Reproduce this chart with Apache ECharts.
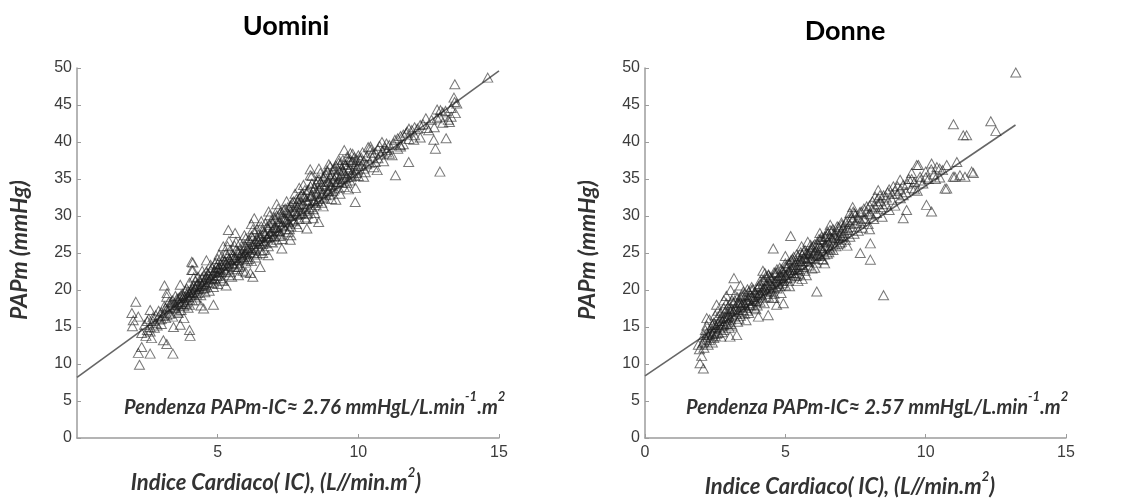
<!DOCTYPE html>
<html>
<head>
<meta charset="utf-8">
<title>PAPm vs IC</title>
<script src="https://cdn.jsdelivr.net/npm/echarts@6/dist/echarts.min.js"></script>
<style>
  html, body { margin: 0; padding: 0; background: #fff; }
  #chart { width: 1138px; height: 500px; }
</style>
</head>
<body>
<div id="chart"></div>
<script>
// tick labels
const xTicks = [0, 5, 10, 15]
const yTicks = [0, 5, 10, 15, 20, 25, 30, 35, 40, 45, 50]

// Uomini: [IC, PAPm]
const menPoints = [
  [2.09,18.4],[1.95,16.9],[2.0,15.9],[1.97,15.1],[2.18,16.4],[2.22,9.9],[2.18,11.5],[2.3,12.3],[2.6,11.4],
  [3.11,20.6],[3.19,19.1],[3.67,20.7],[3.41,11.4],[3.07,13.2],[3.19,12.7],[4.02,13.8],[4.0,14.6],
  [4.12,23.7],[4.12,22.7],[3.67,15.3],[3.43,15.0],[4.85,18.0],[4.5,17.5],[6.25,21.8],[6.51,23.1],
  [5.62,27.7],[5.2,25.9],[4.08,23.8],[4.08,22.7],[5.38,28.1],[6.3,29.7],[6.81,30.6],
  [8.29,36.3],[8.29,35.5],[8.89,36.2],[9.72,38.5],[10.43,39.4],[9.89,31.9],[8.59,29.2],[8.17,28.3],
  [7.28,25.6],[7.58,26.8],[6.16,22.3],[5.74,22.0],
  [14.6,48.7],[13.43,47.8],[13.42,45.4],[13.45,43.9],[12.92,44.3],[12.8,43.2],[13.24,42.7],[13.12,40.5],
  [12.68,40.3],[12.74,39.1],[12.9,36.0],[12.44,41.9],[11.73,41.4],[11.79,37.3],[11.32,35.5],[11.49,39.6],
  [10.84,40.0],[9.72,37.6],[9.0,36.7],[9.3,37.6],[10.07,37.6],[11.02,38.9],[11.97,40.3],[10.19,35.3],[10.67,36.2],
  [2.3,14.2],[2.4,15.3],[2.45,13.8],[2.5,14.6],[2.55,16.1],[2.6,15.0],[2.65,13.5],[2.7,15.8],[2.75,14.9],
  [2.8,16.6],[2.85,15.2],[2.9,17.2],[2.95,16.0],[3.0,15.4],[3.0,17.0],
  [3.05,16.5],[3.1,17.8],[3.15,16.2],[3.2,17.4],[3.25,18.3],[3.3,16.8],[3.35,17.9],[3.4,18.6],[3.4,16.4],
  [3.45,17.5],[3.5,18.0],[3.5,19.2],[3.55,17.1],[3.6,18.4],[3.6,16.9],[3.65,19.0],[3.7,18.1],[3.7,17.3],
  [3.75,19.5],[3.8,18.6],[3.8,17.8],[3.85,19.9],[3.9,18.3],[3.9,20.2],[3.95,19.1],[4.0,18.0],[4.0,19.6],[4.0,21.0],
  [4.05,19.3],[4.1,20.3],[4.1,18.6],[4.15,19.8],[4.2,21.2],[4.2,19.0],[4.25,20.6],[4.3,19.6],[4.3,21.8],
  [4.35,20.1],[4.4,21.0],[4.4,19.3],[4.45,20.7],[4.5,22.0],[4.5,20.2],[4.55,21.4],[4.6,20.6],[4.6,22.5],
  [4.65,21.1],[4.7,19.9],[4.7,22.0],[4.75,21.6],[4.8,23.0],[4.8,20.9],[4.85,22.3],[4.9,21.5],[4.9,23.6],
  [4.95,22.0],[5.0,20.8],[5.0,22.9],[5.0,24.2],
  [5.05,22.4],[5.1,23.5],[5.1,21.6],[5.15,24.6],[5.2,22.9],[5.2,21.2],[5.25,23.9],[5.3,22.5],[5.3,25.0],
  [5.35,23.3],[5.4,24.2],[5.4,22.0],[5.45,25.4],[5.5,23.6],[5.5,21.8],[5.55,24.7],[5.6,23.1],[5.6,26.0],
  [5.65,24.3],[5.7,22.8],[5.7,25.2],[5.75,24.0],[5.8,26.4],[5.8,23.3],[5.85,25.0],[5.9,24.5],[5.9,22.6],
  [5.95,26.1],[6.0,24.9],[6.0,23.7],[6.0,27.0],
  [6.05,25.6],[6.1,24.2],[6.1,26.8],[6.15,25.1],[6.2,27.3],[6.2,23.9],[6.25,26.2],[6.3,25.0],[6.3,27.8],
  [6.35,26.6],[6.4,24.8],[6.4,28.2],[6.45,26.0],[6.5,27.2],[6.5,25.3],[6.55,28.6],[6.6,26.7],[6.6,25.0],
  [6.65,27.7],[6.7,26.3],[6.7,29.0],[6.75,27.1],[6.8,25.9],[6.8,28.3],[6.85,27.6],[6.9,29.4],[6.9,26.5],
  [6.95,28.0],[7.0,27.2],[7.0,29.8],
  [7.05,28.5],[7.1,26.8],[7.1,30.1],[7.15,28.0],[7.2,29.2],[7.2,27.3],[7.25,30.6],[7.3,28.8],[7.3,26.9],
  [7.35,29.7],[7.4,28.2],[7.4,31.0],[7.45,29.4],[7.5,27.8],[7.5,30.4],[7.55,29.0],[7.6,31.4],[7.6,28.6],
  [7.65,30.0],[7.7,29.3],[7.7,32.0],[7.75,30.7],[7.8,28.9],[7.8,31.5],[7.85,30.2],[7.9,32.4],[7.9,29.6],
  [7.95,31.0],[8.0,30.4],[8.0,33.0],
  [8.05,31.6],[8.1,29.8],[8.1,32.6],[8.15,31.0],[8.2,33.5],[8.2,30.3],[8.25,32.1],[8.3,31.2],[8.3,34.0],
  [8.35,32.8],[8.4,30.9],[8.4,33.4],[8.45,32.0],[8.5,34.4],[8.5,31.5],[8.55,33.0],[8.6,32.3],[8.6,35.0],
  [8.65,33.7],[8.7,31.8],[8.7,34.3],[8.75,33.1],[8.8,35.4],[8.8,32.4],[8.85,34.0],[8.9,33.3],[8.9,36.0],
  [8.95,34.6],[9.0,32.9],[9.0,35.2],
  [9.05,34.0],[9.1,36.3],[9.1,33.4],[9.15,35.0],[9.2,34.3],[9.2,36.8],[9.25,35.6],[9.3,33.8],[9.3,37.2],
  [9.35,35.2],[9.4,36.4],[9.4,34.5],[9.45,37.6],[9.5,35.8],[9.5,33.9],[9.55,36.9],[9.6,35.3],[9.6,38.0],
  [9.65,36.2],[9.7,34.8],[9.75,37.3],[9.8,36.0],[9.8,38.4],[9.85,35.5],[9.9,37.0],[9.95,36.4],[10.0,38.2],[10.0,35.4],
  [10.1,36.8],[10.15,38.6],[10.2,37.4],[10.25,35.9],[10.3,38.1],[10.4,37.2],[10.45,39.0],[10.5,37.9],
  [10.55,36.6],[10.6,38.6],[10.7,37.8],[10.75,39.5],[10.8,38.3],[10.9,37.4],[10.95,39.2],[11.0,38.6],
  [11.1,39.6],[11.2,38.2],[11.3,40.3],[11.4,39.1],[11.5,40.8],[11.6,39.7],[11.7,41.2],[11.8,40.4],[11.9,41.6],[12.0,40.9],
  [12.1,41.8],[12.2,40.6],[12.3,42.4],[12.5,41.6],[12.6,43.0],[12.7,42.0],[12.9,43.4],[13.0,42.6],
  [13.1,44.2],[13.2,43.0],[13.3,44.6],[13.5,45.2],
  [2.5,15.8],[2.6,14.4],[2.7,16.3],[2.8,15.5],[2.9,16.4],[3.0,16.1],[3.1,16.9],[3.15,17.6],[3.2,16.6],
  [3.3,17.7],[3.35,18.4],[3.45,18.2],[3.5,17.6],[3.55,18.8],[3.6,17.9],[3.65,18.3],[3.7,19.3],[3.75,18.4],
  [3.8,19.2],[3.85,18.1],[3.9,19.0],[3.95,19.8],[4.0,18.7],[4.05,20.0],
  [4.1,19.7],[4.15,20.6],[4.2,20.1],[4.25,19.4],[4.3,20.8],[4.35,21.3],[4.4,20.5],[4.45,21.7],[4.5,21.1],
  [4.55,20.3],[4.6,21.8],[4.65,22.2],[4.7,21.3],[4.75,22.7],[4.8,22.0],[4.85,21.0],[4.9,22.6],[4.95,23.1],
  [5.0,21.9],[5.0,23.5],
  [5.05,23.0],[5.1,22.4],[5.15,23.4],[5.2,24.1],[5.25,22.7],[5.3,23.7],[5.35,24.5],[5.4,23.2],[5.45,24.0],
  [5.5,24.8],[5.55,23.5],[5.6,24.4],[5.65,25.4],[5.7,24.0],[5.75,25.0],[5.8,25.6],[5.85,24.3],[5.9,25.4],
  [5.95,24.8],[6.0,25.9],
  [6.05,24.5],[6.1,25.6],[6.15,26.5],[6.2,25.4],[6.25,27.0],[6.3,26.2],[6.35,25.5],[6.4,26.9],[6.45,27.5],
  [6.5,26.3],[6.55,27.3],[6.6,28.0],[6.65,26.6],[6.7,27.6],[6.75,28.5],[6.8,27.2],[6.85,28.8],[6.9,27.9],
  [6.95,29.1],[7.0,28.4],
  [7.05,29.6],[7.1,28.4],[7.15,29.3],[7.2,30.3],[7.25,28.6],[7.3,29.9],[7.35,30.8],[7.4,29.6],[7.45,30.5],
  [7.5,31.2],[7.55,30.1],[7.6,30.7],[7.65,31.8],[7.7,30.6],[7.75,31.3],[7.8,32.3],[7.85,31.2],[7.9,31.7],
  [7.95,32.8],[8.0,31.6],
  [8.05,32.6],[8.1,33.5],[8.15,32.2],[8.2,32.0],[8.25,33.6],[8.3,32.7],[8.35,34.4],[8.4,32.2],[8.45,33.8],
  [8.5,33.2],[8.55,34.8],[8.6,33.6],[8.65,34.6],[8.7,33.0],[8.75,35.2],[8.8,34.1],[8.85,35.6],[8.9,34.7],
  [8.95,33.4],[9.0,34.2],
  [9.05,35.6],[9.1,34.8],[9.15,36.4],[9.2,35.4],[9.25,34.6],[9.3,36.2],[9.35,37.0],[9.4,35.6],[9.45,36.1],
  [9.5,37.0],[9.55,35.1],[9.6,36.6],[9.65,37.6],[9.7,36.4],[9.75,35.7],[9.8,37.4],[9.85,37.9],[9.9,36.2],
  [9.95,37.6],[10.0,36.8],
  [10.1,37.9],[10.2,36.4],[10.3,37.0],[10.35,39.3],[10.5,38.5],[10.6,37.3],[10.7,39.0],[10.85,38.8],
  [11.0,39.8],[11.1,38.4],[11.25,39.8],[11.4,40.5],[11.5,39.4],[11.6,41.0],[11.8,41.8],[12.0,42.0],
  [12.2,42.3],[12.4,43.2],[12.8,44.4],[13.0,44.0],[13.3,43.4],[13.4,46.0],
  [5.3,20.6],[6.0,22.4],[6.8,24.7],[7.6,27.4],[8.4,29.7],[9.2,32.2],[9.9,33.8],[4.6,24.0],[5.4,26.6],
  [6.2,28.9],[7.1,31.6],[7.9,33.8],[8.6,36.4],[9.5,38.9],[3.2,19.6],[2.6,17.3],[4.4,17.9],[3.8,16.2],
  [3.6,18.9],[3.75,18.9],[3.9,19.4],[4.05,19.7],[4.2,20.4],[4.35,20.5],[4.5,20.8],[4.65,21.5],[4.8,21.6],
  [4.95,22.5],[5.1,22.8],[5.25,23.3],[5.4,23.6],[5.55,24.1],[5.7,23.6],[5.85,24.7],[6.0,25.2],[6.15,25.7],
  [6.3,25.7],[6.45,26.6],[6.6,26.2],[6.75,27.0],[6.9,27.3],[7.05,27.8],[7.2,28.0],[7.35,28.6],[7.5,29.2],
  [7.65,29.5],[7.8,30.2],[7.95,30.3],[8.1,30.7],[8.25,31.0],[8.4,31.8],[8.55,32.0],[8.7,32.6],[8.85,32.8],
  [9.0,33.7],[9.15,33.6],[9.3,34.6],[9.45,35.0],[9.6,34.5],[9.75,35.3],[9.9,35.8],
  [3.95,17.6],[4.25,18.6],[4.55,19.7],[4.85,20.4],[5.15,21.3],[5.45,22.4],[5.75,23.1],[6.05,24.0],[6.35,24.4],
  [6.65,25.4],[6.95,26.4],[7.25,27.5],[7.55,28.2],[7.85,28.5],[8.15,29.6],[8.45,30.4],[8.75,31.3],[9.05,32.3],
  [9.35,33.0],[9.65,33.6],
  [4.15,21.7],[4.45,22.6],[4.75,23.4],[5.05,24.8],[5.35,25.9],[5.65,26.5],[5.95,27.4],[6.25,28.2],[6.55,29.3],
  [6.85,30.1],[7.15,31.0],[7.45,32.0],[7.75,33.0],[8.05,34.2],[8.35,35.4],[8.65,35.8],[8.95,37.0]
]

// Donne: [IC, PAPm]
const womenPoints = [
  [2.08,9.4],[1.96,10.1],[2.02,11.1],[1.94,12.0],[1.9,12.6],[3.17,21.6],[3.05,20.0],[2.81,18.6],[2.55,18.0],
  [3.27,13.9],[3.03,13.7],[4.39,16.6],[4.04,16.4],[4.57,25.6],[5.19,27.3],[4.27,22.3],[6.12,19.8],[5.58,25.9],
  [6.23,27.7],[4.93,18.2],[4.69,18.0],[8.03,24.1],[8.31,33.5],[8.37,32.8],[7.3,30.4],[9.09,34.9],[9.68,36.9],
  [10.21,37.1],[10.75,33.7],[11.04,35.3],[10.21,30.6],[10.03,31.5],[9.2,29.7],[9.32,30.8],[8.03,26.3],
  [7.67,25.0],[6.29,27.2],[6.59,28.1],[7.01,28.8],[7.42,30.6],[8.5,19.3],
  [13.21,49.4],[10.99,42.4],[12.32,42.8],[12.5,41.5],[11.34,40.9],[11.46,40.9],[10.75,36.9],[11.11,37.3],
  [11.64,36.0],[11.22,35.5],[10.98,35.3],[11.4,35.3],[11.7,35.8],[10.69,33.7],[9.74,36.9],[9.5,35.8],
  [2.05,12.8],[2.1,13.9],[2.1,12.2],[2.15,14.6],[2.2,13.3],[2.2,15.2],[2.25,12.6],[2.3,14.1],[2.3,16.0],
  [2.35,13.6],[2.4,15.3],[2.4,12.9],[2.45,14.4],[2.5,16.6],[2.5,13.8],[2.55,15.0],[2.6,17.2],[2.6,14.2],
  [2.65,15.8],[2.7,13.7],[2.7,16.9],[2.75,15.1],[2.8,17.6],[2.8,14.6],[2.85,16.3],[2.9,15.4],[2.9,18.2],
  [2.95,16.8],[3.0,14.9],[3.0,17.5],
  [3.05,16.0],[3.1,18.6],[3.1,15.2],[3.15,17.1],[3.2,16.3],[3.2,19.4],[3.25,17.8],[3.3,15.7],[3.3,18.3],
  [3.35,17.0],[3.4,19.0],[3.4,16.5],[3.45,18.0],[3.5,17.3],[3.5,19.8],[3.55,16.8],[3.6,18.7],[3.6,17.6],
  [3.65,20.1],[3.7,18.2],[3.7,16.9],[3.75,19.3],[3.8,18.0],[3.8,20.4],[3.85,19.0],[3.9,17.6],[3.9,19.7],
  [3.95,18.5],[4.0,20.2],[4.0,17.9],
  [4.05,19.4],[4.1,20.8],[4.1,18.4],[4.15,19.9],[4.2,21.3],[4.2,18.9],[4.25,20.3],[4.3,19.5],[4.3,21.8],
  [4.35,20.6],[4.4,19.1],[4.4,22.1],[4.45,20.9],[4.5,19.8],[4.5,21.6],[4.55,20.4],[4.6,22.4],[4.6,19.5],
  [4.65,21.2],[4.7,20.2],[4.7,22.8],[4.75,21.6],[4.8,20.5],[4.8,23.0],[4.85,21.9],[4.9,20.9],[4.9,22.6],
  [4.95,21.4],[5.0,23.2],[5.0,20.6],
  [5.05,22.1],[5.1,23.6],[5.1,21.2],[5.15,22.7],[5.2,24.0],[5.2,21.7],[5.25,23.1],[5.3,22.3],[5.3,24.5],
  [5.35,23.4],[5.4,21.9],[5.4,24.8],[5.45,22.8],[5.5,23.9],[5.5,22.2],[5.55,25.1],[5.6,23.4],[5.65,24.4],
  [5.7,22.6],[5.7,25.4],[5.75,23.9],[5.8,24.9],[5.85,23.3],[5.9,25.6],[5.9,24.2],[5.95,22.9],[6.0,24.7],[6.0,26.0],
  [6.05,25.2],[6.1,23.7],[6.15,26.3],[6.2,24.8],[6.25,25.7],[6.3,24.2],[6.3,26.8],[6.35,25.3],[6.4,27.2],
  [6.45,26.0],[6.5,24.9],[6.5,27.6],[6.55,26.4],[6.6,25.5],[6.65,27.0],[6.7,26.1],[6.7,28.2],[6.75,27.4],
  [6.8,25.9],[6.85,28.6],[6.9,27.0],[6.95,26.3],[7.0,28.0],[7.0,29.1],
  [7.05,27.3],[7.1,28.7],[7.15,26.8],[7.2,29.4],[7.25,28.1],[7.3,27.2],[7.35,29.8],[7.4,28.5],[7.45,27.6],
  [7.5,30.2],[7.55,29.0],[7.6,28.0],[7.65,30.5],[7.7,29.3],[7.75,28.4],[7.8,31.0],[7.85,29.7],[7.9,30.6],
  [7.95,28.9],[8.0,31.4],
  [8.05,30.2],[8.1,32.0],[8.15,29.6],[8.2,31.2],[8.25,30.4],[8.3,32.4],[8.4,31.0],[8.45,29.9],[8.5,32.8],
  [8.6,31.6],[8.65,33.2],[8.7,30.8],[8.8,32.2],[8.85,34.0],[8.9,31.4],[9.0,33.0],
  [9.1,32.4],[9.2,34.2],[9.3,33.2],[9.4,35.0],[9.5,33.8],[9.6,34.6],[9.7,33.4],[9.8,35.3],[9.9,34.4],
  [10.0,36.0],[10.1,35.0],[10.3,35.6],[10.4,36.6],[10.5,35.2],[10.6,36.2],
  [2.1,13.0],[2.15,13.6],[2.2,14.2],[2.25,13.9],[2.3,13.2],[2.35,14.8],[2.4,14.0],[2.45,15.6],[2.5,14.9],
  [2.55,14.1],[2.6,15.5],[2.65,14.8],[2.7,16.2],[2.75,15.8],[2.8,15.3],[2.85,17.0],[2.9,16.2],[2.95,15.6],
  [3.0,16.5],[3.0,18.0],
  [3.05,17.2],[3.1,16.6],[3.15,18.2],[3.2,17.5],[3.25,16.8],[3.3,19.0],[3.35,18.2],[3.4,17.7],[3.45,19.2],
  [3.5,18.4],[3.55,17.9],[3.6,19.4],[3.65,18.6],[3.7,19.8],[3.75,17.9],[3.8,19.1],[3.85,20.1],[3.9,18.8],
  [3.95,19.6],[4.0,19.1],
  [4.05,20.5],[4.1,19.6],[4.15,20.4],[4.2,20.0],[4.25,21.3],[4.3,20.6],[4.35,19.8],[4.4,21.2],[4.45,21.8],
  [4.5,20.7],[4.55,21.6],[4.6,21.0],[4.65,22.3],[4.7,21.4],[4.75,20.8],[4.8,22.0],[4.85,22.8],[4.9,21.7],
  [4.95,22.4],[5.0,22.0],
  [5.05,23.0],[5.1,22.5],[5.15,23.6],[5.2,22.9],[5.25,24.2],[5.3,23.3],[5.35,22.7],[5.4,23.8],[5.45,24.6],
  [5.5,23.4],[5.55,24.2],[5.6,23.9],[5.65,25.2],[5.7,24.4],[5.75,25.0],[5.8,23.8],[5.85,24.9],[5.9,25.2],
  [5.95,25.8],[6.0,25.0],
  [6.05,26.2],[6.1,25.4],[6.15,24.8],[6.2,26.0],[6.25,26.8],[6.3,25.6],[6.35,26.5],[6.4,25.9],[6.45,27.3],
  [6.5,26.6],[6.55,25.7],[6.6,27.2],[6.65,28.0],[6.7,26.8],[6.75,27.6],[6.8,27.0],[6.85,27.8],[6.9,28.5],
  [6.95,27.4],[7.0,27.2],
  [7.05,28.3],[7.1,27.7],[7.15,29.2],[7.2,28.4],[7.3,28.9],[7.4,29.5],[7.45,30.4],[7.5,29.0],[7.6,29.8],
  [7.7,30.6],[7.8,29.6],[7.9,31.3],[8.0,30.3],
  [8.1,31.0],[8.2,32.6],[8.3,31.6],[8.4,32.0],[8.5,31.2],[8.6,32.5],[8.7,33.6],[8.8,33.0],[8.9,33.4],
  [9.0,34.0],[9.1,33.6],[9.2,32.8],[9.35,34.4],[9.5,35.0],[9.6,33.6],[9.8,34.8],[10.0,35.2],[10.2,36.3],
  [10.35,35.0],[10.5,36.4],
  [3.4,20.6],[4.2,22.6],[5.0,24.6],[5.8,26.5],[6.6,28.8],[7.4,31.2],[3.6,15.9],[4.6,18.9],[5.6,21.5],
  [6.4,23.6],[7.2,26.0],[8.0,28.2],[2.9,19.2],[2.2,16.2],
  [2.35,14.4],[2.5,15.3],[2.65,15.3],[2.8,16.1],[2.95,16.3],[3.1,17.4],[3.25,17.3],[3.4,18.3],[3.55,18.2],
  [3.7,18.7],[3.85,18.5],[4.0,18.6],[4.15,19.3],[4.3,20.1],[4.45,20.2],[4.6,20.3],[4.75,21.1],[4.9,21.2],
  [5.05,21.6],[5.2,22.3],[5.35,22.0],[5.5,22.8],[5.65,23.1],[5.8,24.3],[5.95,24.3],[6.1,24.6],[6.25,24.6],
  [6.4,24.8],[6.55,25.1],[6.7,25.4],[6.85,26.2],[7.0,26.5],
  [2.45,13.5],[2.75,14.3],[3.05,15.4],[3.35,16.1],[3.65,17.2],[3.95,17.4],[4.25,18.2],[4.55,18.9],[4.85,19.6],
  [5.15,20.5],[5.45,21.2],[5.75,22.0],[6.05,23.0],[6.35,24.1],
  [2.6,16.4],[2.9,17.4],[3.2,18.6],[3.5,19.3],[3.8,20.0],[4.1,21.2],[4.4,22.0],[4.7,22.4],[5.0,23.6],
  [5.3,24.0],[5.6,24.8],[5.9,26.1],[6.2,26.9],[6.5,27.9]
]

// regression lines (ends)
const menFit = [[0, 8.2], [15, 49.6]]
const womenFit = [[0, 8.4], [13.2, 42.3]]

const chart = echarts.init(document.getElementById('chart'), null, { renderer: 'canvas' })

const tickFont = 'Liberation Sans, Arial, sans-serif'
const textFont = 'Lato, "Open Sans", sans-serif'

function xAxisFor(idx, showZero) {
  return {
    type: 'value', gridIndex: idx, min: xTicks[0], max: xTicks[xTicks.length - 1], interval: 5,
    axisLine: { show: true, onZero: false, lineStyle: { color: '#9c9c9c', width: 1.5 } },
    axisTick: { show: true, inside: true, length: 4, lineStyle: { color: '#9c9c9c' } },
    axisLabel: { showMinLabel: showZero, color: '#3c3c3c', fontFamily: tickFont, fontSize: 16, margin: 7 },
    splitLine: { show: false }
  }
}
function yAxisFor(idx) {
  return {
    type: 'value', gridIndex: idx, min: yTicks[0], max: yTicks[yTicks.length - 1], interval: 5,
    axisLine: { show: true, onZero: false, lineStyle: { color: '#9c9c9c', width: 1.5 } },
    axisTick: { show: true, inside: true, length: 4, lineStyle: { color: '#9c9c9c' } },
    axisLabel: { color: '#3c3c3c', fontFamily: tickFont, fontSize: 16, margin: 5 },
    splitLine: { show: false }
  }
}

const markerStyle = { color: 'rgba(255,255,255,0)', borderColor: 'rgba(30,30,30,0.75)', borderWidth: 1 }

const richParts = {
  a: { fontFamily: textFont, fontStyle: 'italic', fontWeight: 'bold', fontSize: 20, fill: '#333', lineHeight: 27, verticalAlign: 'bottom' },
  s: { fontFamily: textFont, fontStyle: 'italic', fontWeight: 'bold', fontSize: 13, fill: '#333', lineHeight: 27, verticalAlign: 'top' }
}
const richName = {
  a: { fontFamily: textFont, fontStyle: 'italic', fontWeight: 'bold', fontSize: 22, fill: '#333', lineHeight: 28, verticalAlign: 'bottom' },
  s: { fontFamily: textFont, fontStyle: 'italic', fontWeight: 'bold', fontSize: 13, fill: '#333', lineHeight: 28, verticalAlign: 'top' }
}

function slopeText(x, y, value) {
  return {
    type: 'text', x: x, y: y,
    style: {
      text: '{a|Pendenza PAPm-IC≈ ' + value + ' mmHgL/L.min}{s|-1}{a|.m}{s|2}',
      verticalAlign: 'middle', align: 'left', rich: richParts
    }
  }
}
function axisNameText(x, y) {
  return {
    type: 'text', x: x, y: y,
    style: {
      text: '{a|Indice Cardiaco( IC), (L//min.m}{s|2}{a|)}',
      align: 'center', verticalAlign: 'middle', rich: richName
    }
  }
}
function yNameText(x, y) {
  return {
    type: 'text', x: x, y: y, rotation: Math.PI / 2,
    style: {
      text: 'PAPm (mmHg)', align: 'center', verticalAlign: 'middle',
      fontFamily: textFont, fontStyle: 'italic', fontWeight: 'bold', fontSize: 23, fill: '#333'
    }
  }
}
function titleText(x, y, label) {
  return {
    type: 'text', x: x, y: y,
    style: {
      text: label, align: 'center', verticalAlign: 'middle',
      fontFamily: textFont, fontWeight: 'bold', fontSize: 27, fill: '#000'
    }
  }
}

const option = {
  animation: false,
  backgroundColor: '#fff',
  grid: [
    { left: 77, top: 68, width: 422, height: 370 },
    { left: 645, top: 68, width: 421, height: 370 }
  ],
  xAxis: [xAxisFor(0, false), xAxisFor(1, true)],
  yAxis: [yAxisFor(0), yAxisFor(1)],
  series: [
    {
      name: 'Uomini', type: 'scatter', xAxisIndex: 0, yAxisIndex: 0,
      symbol: 'triangle', symbolSize: [10, 9], itemStyle: markerStyle, data: menPoints, z: 3
    },
    {
      name: 'Donne', type: 'scatter', xAxisIndex: 1, yAxisIndex: 1,
      symbol: 'triangle', symbolSize: [10, 9], itemStyle: markerStyle, data: womenPoints, z: 3
    },
    {
      name: 'fit U', type: 'line', xAxisIndex: 0, yAxisIndex: 0, data: menFit, symbol: 'none',
      lineStyle: { color: '#666', width: 1.6 }, z: 2
    },
    {
      name: 'fit D', type: 'line', xAxisIndex: 1, yAxisIndex: 1, data: womenFit, symbol: 'none',
      lineStyle: { color: '#666', width: 1.6 }, z: 2
    }
  ],
  graphic: [
    titleText(286, 26, 'Uomini'),
    titleText(845, 31, 'Donne'),
    yNameText(20, 250),
    yNameText(588, 250),
    slopeText(124, 404, '2.76'),
    slopeText(686, 404, '2.57'),
    axisNameText(276, 480),
    axisNameText(850, 484)
  ]
}

chart.setOption(option)
</script>
</body>
</html>
